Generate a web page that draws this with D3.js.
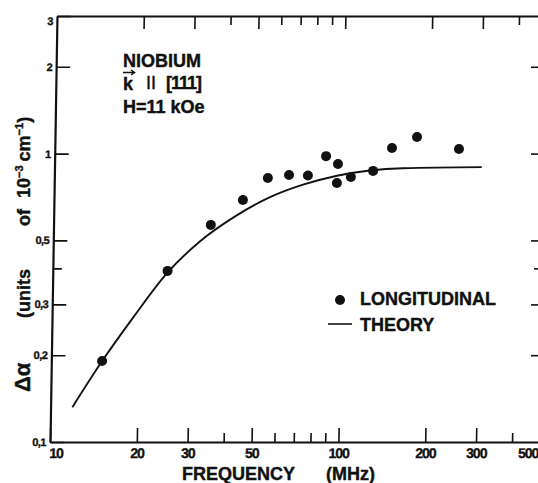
<!DOCTYPE html>
<html>
<head>
<meta charset="utf-8">
<script src="https://cdn.jsdelivr.net/npm/d3@7"></script>
<style>
  html, body { margin: 0; padding: 0; background: #fff; }
  svg { display: block; font-family: "Liberation Sans", Arial, sans-serif; font-weight: bold; }
  .axis path, .axis line { stroke: #111; }
  .axis text { fill: #111; font-weight: bold; stroke: #111; stroke-width: 0.35; }
  .heavy text { stroke: #111; stroke-width: 0.4; }
</style>
</head>
<body>
<div id="chart"></div>
<script>
'use strict';

// measured points (frequency in MHz, attenuation in 10^-3 cm^-1)
var longFreq = [15, 25, 35.1, 45.2, 55, 65.1, 75.7, 87.3, 96.1, 95.5, 106.7, 127.3, 147.6, 180, 252];
var longVal  = [0.191, 0.392, 0.566, 0.69, 0.823, 0.843, 0.84, 0.98, 0.92, 0.791, 0.83, 0.871, 1.046, 1.142, 1.037];

// theory curve
var theoryFreq = [11.9, 14.75, 19.1, 24.9, 32.3, 41.9, 56.1, 72.9, 95.5, 124, 161.5, 303];
var theoryVal  = [0.132, 0.186, 0.27, 0.385, 0.497, 0.6, 0.706, 0.78, 0.838, 0.874, 0.89, 0.898];

// tick values / labels
var freqLabels = [10, 20, 30, 50, 100, 200, 300, 500];
var freqMinor = [40, 60, 70, 80, 90, 400];
var ampLabels = [0.1, 0.2, 0.3, 0.5, 1, 2, 3];
var ampMinor = [0.4];
var ampRight = [0.2, 0.3, 0.5, 1, 2];

var legendLabels = ['LONGITUDINAL', 'THEORY'];

var width = 538, height = 483;
var plotLeft = 50, plotRight = 540, plotTop = 16, plotBottom = 442;

var svg = d3.select('#chart').append('svg')
	.attr('width', width)
	.attr('height', height);

var x = d3.scaleLog().domain([10, 500]).range([plotLeft, plotRight]);
var y = d3.scaleLog().domain([0.1, 3]).range([plotBottom, plotTop]);

// the scanned frame leans a little to the right towards the top
var k = 7 / 427;
var plot = svg.append('g')
	.attr('transform', 'matrix(1,0,' + (-k) + ',1,' + (k * plotBottom) + ',0)');

// bottom axis
plot.append('g').attr('class', 'axis')
	.attr('transform', 'translate(0,' + plotBottom + ')')
	.call(d3.axisBottom(x).tickValues(freqLabels).tickSize(-14).tickSizeOuter(0)
		.tickPadding(6).tickFormat(d3.format('d')))
	.call(function(g) {
		g.select('.domain').attr('stroke-width', 2.2);
		g.selectAll('line').attr('stroke-width', 1.6);
		g.selectAll('text').attr('font-size', 14).attr('letter-spacing', -1)
			.attr('font-family', '"Liberation Sans", Arial, sans-serif');
		g.selectAll('.tick').filter(function(d) { return d === 10; })
			.select('text').attr('text-anchor', 'start').attr('dx', -1);
		// last label sits on the page edge: keep it inside
		g.selectAll('.tick').filter(function(d) { return d === 500; })
			.select('text').attr('text-anchor', 'end').attr('dx', -2);
	});
plot.append('g').attr('class', 'axis')
	.attr('transform', 'translate(0,' + plotBottom + ')')
	.call(d3.axisBottom(x).tickValues(freqMinor).tickSize(-9).tickFormat(''))
	.call(function(g) {
		g.select('.domain').remove();
		g.selectAll('line').attr('stroke-width', 1.6);
	});

// top axis
plot.append('g').attr('class', 'axis')
	.attr('transform', 'translate(0,' + plotTop + ')')
	.call(d3.axisTop(x).tickValues([20, 30, 50, 100, 200, 300]).tickSize(-13).tickSizeOuter(0).tickFormat(''))
	.call(function(g) {
		g.select('.domain').attr('stroke-width', 2.2);
		g.selectAll('line').attr('stroke-width', 1.6);
	});
plot.append('g').attr('class', 'axis')
	.attr('transform', 'translate(0,' + plotTop + ')')
	.call(d3.axisTop(x).tickValues(freqMinor).tickSize(-9).tickFormat(''))
	.call(function(g) {
		g.select('.domain').remove();
		g.selectAll('line').attr('stroke-width', 1.6);
	});

// left axis
plot.append('g').attr('class', 'axis')
	.attr('transform', 'translate(' + plotLeft + ',0)')
	.call(d3.axisLeft(y).tickValues(ampLabels).tickSize(-14).tickSizeOuter(0)
		.tickPadding(4).tickFormat(function(d) { return String(d).replace('.', ','); }))
	.call(function(g) {
		g.select('.domain').attr('stroke-width', 2.2);
		g.selectAll('line').attr('stroke-width', 1.6);
		g.selectAll('text').attr('font-size', 11).attr('letter-spacing', -0.5)
			.attr('font-family', '"Liberation Sans", Arial, sans-serif');
		g.selectAll('.tick').filter(function(d) { return d === 3; })
			.select('text').attr('dy', '0.8em');
	});
plot.append('g').attr('class', 'axis')
	.attr('transform', 'translate(' + plotLeft + ',0)')
	.call(d3.axisLeft(y).tickValues(ampMinor).tickSize(-9).tickFormat(''))
	.call(function(g) {
		g.select('.domain').remove();
		g.selectAll('line').attr('stroke-width', 1.6);
	});

// theory curve
var line = d3.line()
	.x(function(d) { return x(d[0]); })
	.y(function(d) { return y(d[1]); })
	.curve(d3.curveMonotoneX);

plot.append('path')
	.datum(d3.zip(theoryFreq, theoryVal))
	.attr('d', line)
	.attr('fill', 'none')
	.attr('stroke', '#111')
	.attr('stroke-width', 1.9);

// data points
plot.append('g').selectAll('circle')
	.data(d3.zip(longFreq, longVal))
	.enter()
	.append('circle')
	.attr('r', 5)
	.attr('cx', function(d) { return x(d[0]); })
	.attr('cy', function(d) { return y(d[1]); })
	.attr('fill', '#111');

// right axis (only its ticks show, the line is off the page)
svg.append('g').attr('class', 'axis')
	.attr('transform', 'translate(' + plotRight + ',0)')
	.call(d3.axisRight(y).tickValues(ampRight).tickSize(-9).tickSizeOuter(0).tickFormat(''))
	.call(function(g) {
		g.select('.domain').attr('stroke-width', 2.2);
		g.selectAll('line').attr('stroke-width', 1.6);
	});
svg.append('g').attr('class', 'axis')
	.attr('transform', 'translate(' + plotRight + ',0)')
	.call(d3.axisRight(y).tickValues(ampMinor).tickSize(-6).tickFormat(''))
	.call(function(g) {
		g.select('.domain').remove();
		g.selectAll('line').attr('stroke-width', 1.6);
	});

// x title
var xt = svg.append('g').attr('class', 'heavy').attr('fill', '#111').attr('font-size', 18);
xt.append('text').attr('x', 182).attr('y', 480).text('FREQUENCY');
xt.append('text').attr('x', 326).attr('y', 480).text('(MHz)');

// y title, pieces laid out along the axis
var yt = svg.append('g').attr('class', 'heavy').attr('fill', '#111');
yt.append('text')
	.attr('transform', 'translate(30,392) rotate(-90)')
	.attr('font-size', 22)
	.text('\u0394\u03b1');
yt.append('text')
	.attr('transform', 'translate(30,318) rotate(-90)')
	.attr('font-size', 18)
	.text('(units');
yt.append('text')
	.attr('transform', 'translate(30,226) rotate(-90)')
	.attr('font-size', 18)
	.text('of');
var unit = yt.append('text')
	.attr('transform', 'translate(30,198) rotate(-90)')
	.attr('font-size', 18);
unit.append('tspan').text('10');
unit.append('tspan').attr('dy', -7).attr('font-size', 11).text('\u22123');
unit.append('tspan').attr('dy', 7).attr('dx', 4).text('cm');
unit.append('tspan').attr('dy', -7).attr('font-size', 11).text('\u22121');
unit.append('tspan').attr('dy', 7).text(')');

// sample annotation
var note = svg.append('g').attr('class', 'heavy').attr('fill', '#111').attr('font-size', 18);
note.append('text').attr('x', 123).attr('y', 67).text('NIOBIUM');
note.append('text').attr('x', 123).attr('y', 89.5).text('k');
note.append('path')
	.attr('d', 'M123,72.5H134M131,70L134.5,72.5L131,75')
	.attr('fill', 'none').attr('stroke', '#111').attr('stroke-width', 1.5);
note.append('text').attr('x', 146).attr('y', 89).attr('font-weight', 'normal').text('II');
note.append('text').attr('x', 166).attr('y', 89).attr('letter-spacing', -1).text('[111]');
note.append('text').attr('x', 123).attr('y', 113).text('H=11 kOe');

// legend
var legend = svg.append('g').attr('class', 'heavy').attr('fill', '#111').attr('font-size', 18);
legend.append('circle').attr('cx', 340).attr('cy', 300).attr('r', 5);
legend.append('text').attr('x', 360).attr('y', 305).text(legendLabels[0]);
legend.append('line')
	.attr('x1', 328).attr('x2', 352).attr('y1', 324).attr('y2', 324)
	.attr('stroke', '#111').attr('stroke-width', 1.6);
legend.append('text').attr('x', 360).attr('y', 331).text(legendLabels[1]);
</script>
</body>
</html>
